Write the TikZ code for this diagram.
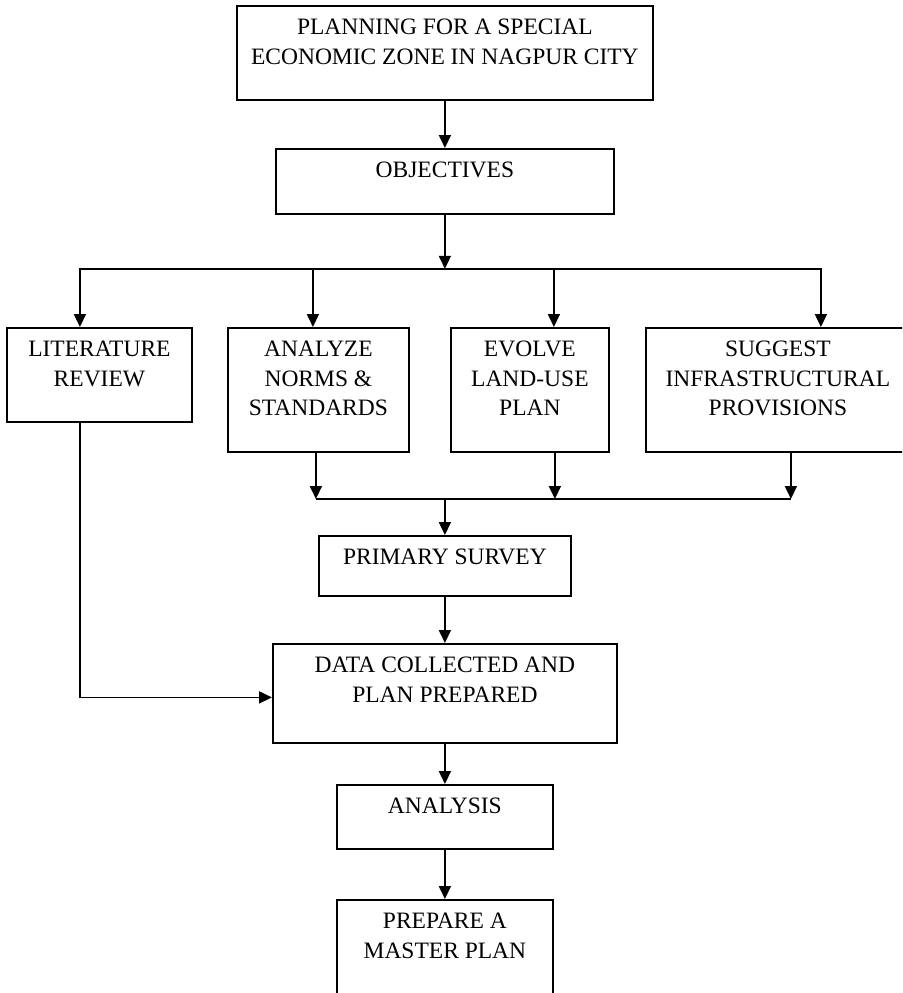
\documentclass[tikz,border=0pt]{standalone}
\usepackage{fontspec}
\setmainfont{Liberation Serif}
\usetikzlibrary{arrows.meta,positioning}

\newcommand{\stagetext}[3]{\parbox[c][#2pt][t]{#1pt}{\centering\rule{0pt}{29pt}#3}}

\begin{document}
\begin{tikzpicture}[x=1pt,y=-1pt,line width=1.8pt,
      stage/.style={rectangle, draw=black, inner sep=0pt, anchor=north west, font=\fontsize{23.5}{29.5}\selectfont},
      pfeil/.style={-{Triangle[width=12pt,length=13pt]}}]

\useasboundingbox (0,0) rectangle (902,993);
\clip (0,0) rectangle (902,993);

\node[stage] (plan) at (236,5) {\stagetext{416}{94}{PLANNING FOR A SPECIAL\\ECONOMIC ZONE IN NAGPUR CITY}};
\node[stage] (obj) at (275,148) {\stagetext{338}{65}{OBJECTIVES}};
\node[stage] (lit) at (6,327) {\stagetext{185}{94}{LITERATURE\\REVIEW}};
\node[stage] (norms) at (227,327) {\stagetext{181}{124}{ANALYZE\\NORMS \&\\STANDARDS}};
\node[stage] (evolve) at (450,327) {\stagetext{158}{124}{EVOLVE\\LAND-USE\\PLAN}};
\node[stage] (infra) at (645,327) {\stagetext{264}{124}{SUGGEST\\INFRASTRUCTURAL\\PROVISIONS}};
\node[stage] (primary) at (318,535) {\stagetext{252}{60}{PRIMARY SURVEY}};
\node[stage] (data) at (272,643) {\stagetext{344}{99}{DATA COLLECTED AND\\PLAN PREPARED}};
\node[stage] (analysis) at (336,784) {\stagetext{216}{64}{ANALYSIS}};
\node[stage] (prepare) at (336,899) {\stagetext{216}{110}{PREPARE A\\MASTER PLAN}};
\coordinate[below=54pt of obj] (bar);
\coordinate[above=36pt of primary] (merge);

\draw[pfeil] (plan.south) -- (obj.north);
\draw[pfeil] (obj.south) -- (bar);
\draw[pfeil] (bar) -| ([xshift=-19.5pt]lit.north);
\draw[pfeil] (bar) -| ([xshift=-5.5pt]norms.north);
\draw[pfeil] (bar) -| ([xshift=24pt]evolve.north);
\draw[pfeil] (bar) -| ([xshift=43pt]infra.north);
\draw[pfeil] ([xshift=-2.5pt]norms.south) -- ([xshift=-2.5pt]norms.south |- merge);
\draw[pfeil] ([xshift=25pt]evolve.south) -- ([xshift=25pt]evolve.south |- merge);
\draw[pfeil] ([xshift=13pt]infra.south) -- ([xshift=13pt]infra.south |- merge);
\draw ([xshift=-2.5pt]norms.south |- merge) -- ([xshift=13pt]infra.south |- merge);
\draw[pfeil] (merge) -- (primary.north);
\draw[pfeil] (primary.south) -- (data.north);
\draw[pfeil] ([xshift=-19.5pt]lit.south) |- ([yshift=-4pt]data.west);
\draw[pfeil] (data.south) -- (analysis.north);
\draw[pfeil] (analysis.south) -- (prepare.north);

\end{tikzpicture}
\end{document}
